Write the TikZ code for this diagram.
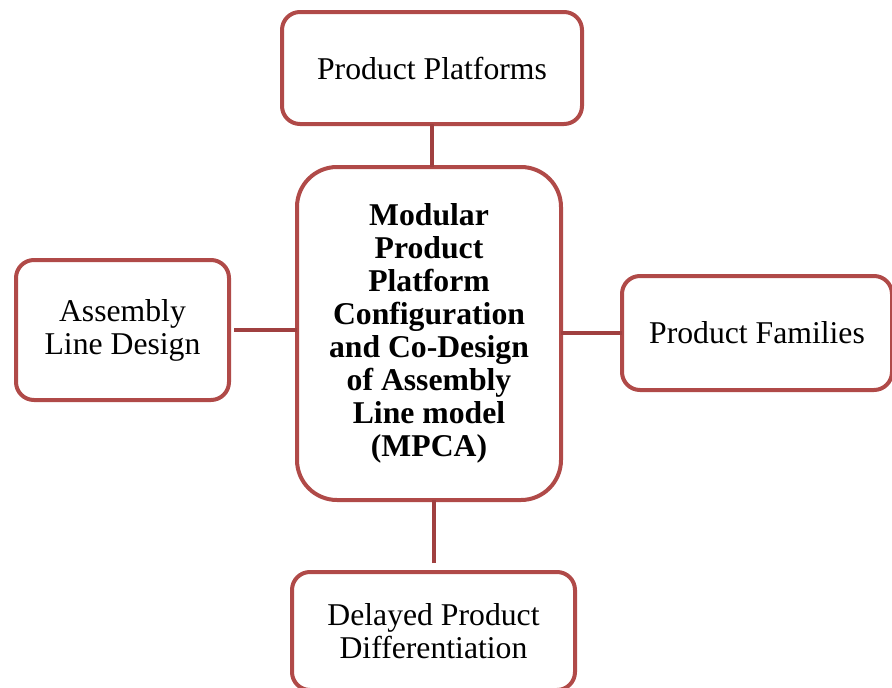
\documentclass[tikz,border=0pt]{standalone}
\usepackage{fontspec}
\setmainfont{Liberation Serif}
\definecolor{boxred}{RGB}{176,74,72}
\definecolor{linkred}{RGB}{160,64,64}
\tikzset{
  topic/.style={draw=boxred, line width=4pt, fill=white, rounded corners=18pt,
    align=center, inner sep=0pt, outer sep=0pt,
    font=\fontsize{31.7}{33}\selectfont},
  hub/.style={topic, rounded corners=40pt, font=\fontsize{31.7}{33}\selectfont\bfseries},
  link/.style={draw=linkred, line width=4pt}
}
\begin{document}
\begin{tikzpicture}[x=1pt,y=-1pt]
  \useasboundingbox (0,0) rectangle (892,688);

  \node[hub, minimum width=264pt, minimum height=333pt] (mpca) at (429,333.5)
    {Modular\\Product\\Platform\\Configuration\\and Co-Design\\of Assembly\\Line model\\(MPCA)};

  \node[topic, minimum width=300pt, minimum height=112pt] (platforms) at (432,68)
    {Product Platforms};
  \node[topic, minimum width=213pt, minimum height=140pt] (assembly) at (122.5,330)
    {Assembly\\Line Design};
  \node[topic, minimum width=270pt, minimum height=114pt] (families) at (757,333)
    {Product Families};
  \node[topic, minimum width=283pt, minimum height=118pt] (delayed) at (433.5,631)
    {Delayed Product\\Differentiation};

  \draw[link] (platforms.south) -- (platforms.south |- mpca.north);
  \draw[link, shorten <=5pt] (assembly.east) -- (assembly.east -| mpca.west);
  \draw[link] (mpca.east |- families.west) -- (families.west);
  \draw[link, shorten <=9pt] (delayed.north) -- (delayed.north |- mpca.south);

\end{tikzpicture}
\end{document}
